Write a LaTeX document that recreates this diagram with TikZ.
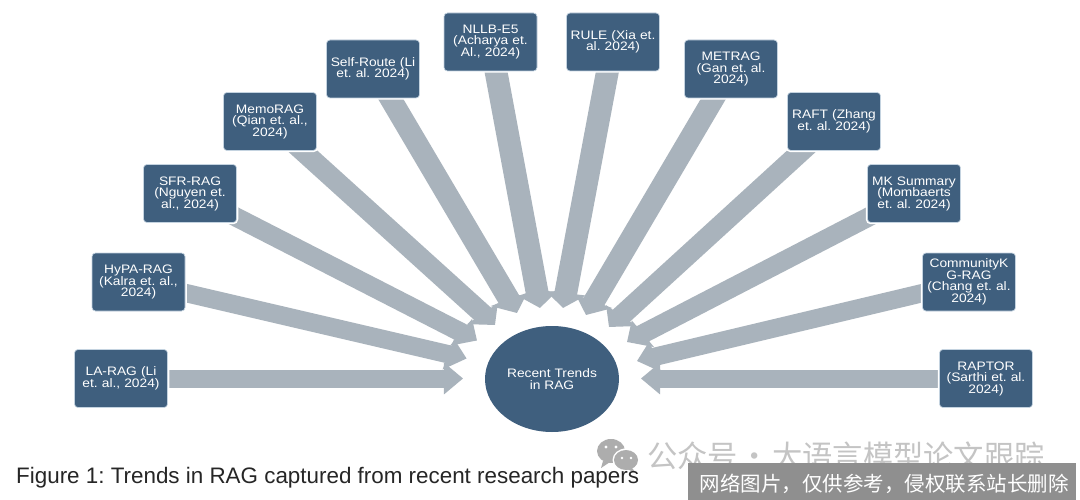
\documentclass[tikz,border=0pt]{standalone}
\usepackage{fontspec}
\setmainfont{Liberation Sans}
\newfontfamily\boxfont[FakeStretch=1.12]{Liberation Sans}
\newfontfamily\cjk{Noto Sans CJK SC}
\usetikzlibrary{arrows.meta,calc,shapes.geometric}
\pgfdeclarelayer{under}
\pgfsetlayers{under,main}
\definecolor{boxblue}{HTML}{3F5F7E}
\definecolor{boxedge}{HTML}{C4D3E0}
\definecolor{arrowgrey}{HTML}{A9B3BC}
\definecolor{markgrey}{HTML}{C4C4C4}
\definecolor{bannergrey}{HTML}{8F8F8F}
\definecolor{chatgrey}{HTML}{ADADAD}
\frenchspacing
\tikzset{
  paper/.style={draw=boxedge,line width=0.7pt,fill=boxblue,rounded corners=3.5pt,text=white,
    minimum width=93pt,minimum height=58pt,inner sep=1pt,align=center,
    font=\boxfont\fontsize{12.3}{11.5}\selectfont,text width=91pt,
    preaction={draw=white,line width=3.5pt}},
  hub/.style={fill=boxblue,ellipse,draw=none,text=white,align=center,
    font=\boxfont\fontsize{12.3}{11.5}\selectfont},
  trend/.style={draw=arrowgrey,line width=18pt,-{Triangle[length=15pt,width=31pt]}},
}
\begin{document}
\begin{tikzpicture}[x=1pt,y=-1pt]
\useasboundingbox (0,0) rectangle (1080,500);
\begin{pgfonlayer}{under}
\fill[white] (0,0) rectangle (1080,500);
\end{pgfonlayer}
% hub
\node[hub,minimum width=134pt,minimum height=106pt,inner sep=0pt] (hub) at (552,379) {Recent Trends\\in RAG};
% boxes
\node[paper] (la) at (121,378.5) {LA-RAG (Li\\et. al., 2024)};
\node[paper] (hypa) at (138.5,282) {HyPA-RAG\\(Kalra et. al.,\\2024)};
\node[paper] (sfr) at (190,193.5) {SFR-RAG\\(Nguyen et.\\al., 2024)};
\node[paper] (memo) at (270,121.5) {MemoRAG\\(Qian et. al.,\\2024)};
\node[paper] (self) at (373,69) {Self-Route (Li\\et. al. 2024)};
\node[paper] (nllb) at (490.5,42) {NLLB-E5\\(Acharya et.\\Al., 2024)};
\node[paper] (rule) at (613,42) {RULE (Xia et.\\al. 2024)};
\node[paper] (metrag) at (731,69) {METRAG\\(Gan et. al.\\2024)};
\node[paper] (raft) at (834,121.5) {RAFT (Zhang\\et. al. 2024)};
\node[paper] (mk) at (914,193.5) {MK Summary\\(Mombaerts\\et. al. 2024)};
\node[paper] (comm) at (969,282) {CommunityK\\G-RAG\\(Chang et. al.\\2024)};
\node[paper] (raptor) at (986,378.5) {RAPTOR\\(Sarthi et. al.\\2024)};
% connectors, drawn under the boxes, stretched horizontally like the reference
\begin{pgfonlayer}{under}
\foreach \key/\hx/\hy in {
  la/463/378.5,
  hypa/466.6/358.5,
  sfr/477/340.5,
  memo/495/325,
  self/517/313,
  nllb/540/308,
  rule/563/308,
  metrag/586/315,
  raft/609/327,
  mk/627/342,
  comm/637/361,
  raptor/641/378.5}{
  \coordinate (\key h) at (\hx,\hy);
  \draw[trend,transform canvas={xscale=1.27}]
    let \p1=(\key.center),\p2=(\key h) in (\x1/1.27,\y1) -- (\x2/1.27,\y2);
}
\end{pgfonlayer}
% watermark
\node[anchor=west,inner sep=0pt,text=markgrey,font=\cjk\fontsize{30.3}{30.3}\selectfont] (mark) at (647,456) {公众号\makebox[34pt]{·}大语言模型论文跟踪};
\fill[chatgrey] (611,451) ellipse [x radius=14,y radius=12];
\fill[chatgrey] (603,461) -- (601,468) -- (610,462) -- cycle;
\fill[white] (626,460) ellipse [x radius=13.5,y radius=11.5];
\fill[chatgrey] (626,460) ellipse [x radius=12,y radius=10];
\fill[chatgrey] (632,468) -- (636,473) -- (627,469) -- cycle;
\foreach \ex/\ey in {606/447,616/447}{\fill[white] (\ex,\ey) circle [radius=1.7];}
\foreach \ex/\ey in {622/458,631/458}{\fill[white] (\ex,\ey) circle [radius=1.4];}
\fill[bannergrey] (688,463) rectangle (1076,500);
\node[anchor=center,inner sep=0pt,text=white,font=\cjk\fontsize{20.5}{20.5}\selectfont] (banner) at (884,484) {网络图片，仅供参考，侵权联系站长删除};
% caption
\node[anchor=west,inner sep=0pt,font=\fontsize{22.4}{22.4}\selectfont,text=black!85] (cap) at (16,478) {Figure 1: Trends in RAG captured from recent research papers};
\end{tikzpicture}
\end{document}
